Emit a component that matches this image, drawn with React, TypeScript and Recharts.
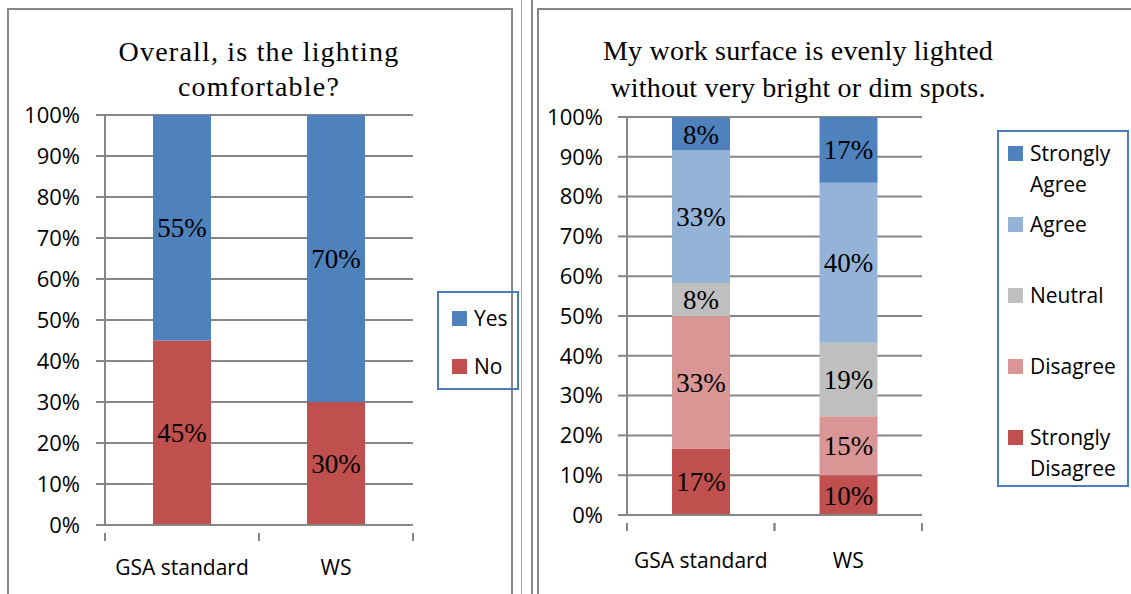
import React from 'react'
import { BarChart, Bar, XAxis, YAxis, CartesianGrid, LabelList } from 'recharts'

// shared categories and axis ticks
const categories = ['GSA standard', 'WS']
const percentTicks = [0, 10, 20, 30, 40, 50, 60, 70, 80, 90, 100]

// left chart: "Overall, is the lighting comfortable?"
const noValues = [45, 30]
const yesValues = [55, 70]

// right chart: "My work surface is evenly lighted..."
const stronglyDisagree = [16.7, 10]
const disagree = [33.3, 14.8]
const neutral = [8.3, 18.5]
const agree = [33.3, 40.2]
const stronglyAgree = [8.3, 16.5]

const leftSeries = [
  { key: 'No', values: noValues, color: '#C0504D' },
  { key: 'Yes', values: yesValues, color: '#4F81BD' },
]

const rightSeries = [
  { key: 'Strongly Disagree', values: stronglyDisagree, color: '#C0504D' },
  { key: 'Disagree', values: disagree, color: '#D99694' },
  { key: 'Neutral', values: neutral, color: '#BFBFBF' },
  { key: 'Agree', values: agree, color: '#95B3D7' },
  { key: 'Strongly Agree', values: stronglyAgree, color: '#4F81BD' },
]

const buildRows = (series: { key: string; values: number[] }[]) =>
  categories.map((name, i) => {
    const row: Record<string, string | number> = { name }
    series.forEach(s => { row[s.key] = s.values[i] })
    return row
  })

const leftData = buildRows(leftSeries)
const rightData = buildRows(rightSeries)

const GRAY = '#868686'
const SANS = '"Open Sans", sans-serif'
const SERIF = '"Liberation Serif", serif'

// category tick: label centred, tick marks on the band edges (Excel style)
const CategoryTick = (props: any) => {
  const { x, y, payload, width, visibleTicksCount, labelDy } = props
  const half = width / visibleTicksCount / 2
  return (
    <g>
      <line x1={x - half} y1={y} x2={x - half} y2={y + 8} stroke={GRAY} strokeWidth={2} />
      <line x1={x + half} y1={y} x2={x + half} y2={y + 8} stroke={GRAY} strokeWidth={2} />
      <text x={x} y={y + labelDy} textAnchor="middle" fontFamily={SANS} fontSize={21} fill="#000">
        {payload.value}
      </text>
    </g>
  )
}

const roundPct = (v: any) => `${Math.round(Number(v))}%`

function StackChart({ data, series, width, height, margin, yWidth, xHeight, tickMargin, labelDy }: any) {
  return (
    <BarChart width={width} height={height} data={data} margin={margin} barSize={58}>
      <CartesianGrid vertical={false} stroke={GRAY} strokeWidth={2} />
      <XAxis
        dataKey="name"
        height={xHeight}
        axisLine={{ stroke: GRAY, strokeWidth: 2 }}
        tickLine={false}
        interval={0}
        tick={<CategoryTick labelDy={labelDy} />}
      />
      <YAxis
        width={yWidth}
        domain={[0, 100]}
        ticks={percentTicks}
        interval={0}
        tickFormatter={(v: number) => `${v}%`}
        tickSize={9}
        tickMargin={tickMargin}
        axisLine={{ stroke: GRAY, strokeWidth: 2 }}
        tickLine={{ stroke: GRAY, strokeWidth: 2 }}
        tick={{ fontFamily: SANS, fontSize: 22, fill: '#000' }}
      />
      {series.map((s: any) => (
        <Bar key={s.key} dataKey={s.key} stackId="a" fill={s.color} isAnimationActive={false}>
          <LabelList
            dataKey={s.key}
            position="center"
            formatter={roundPct}
            style={{ fontFamily: SERIF, fontSize: 27, fill: '#000' }}
          />
        </Bar>
      ))}
    </BarChart>
  )
}

function LegendBox({ items, left, top, width, height, firstY, step, squareX, textX }: any) {
  return (
    <div style={{ position: 'absolute', left, top, width, height, border: '2px solid #4A7EBB', boxSizing: 'border-box' }}>
      {items.map((s: any, i: number) => {
        const cy = firstY + i * step - top
        const words = s.key.split(' ')
        return (
          <div key={s.key}>
            <div style={{ position: 'absolute', left: squareX - left, top: cy - 8, width: 15, height: 15, background: s.color }} />
            <div style={{ position: 'absolute', left: textX - left, top: cy - 16, fontFamily: SANS, fontSize: 21, lineHeight: '31px', color: '#000', whiteSpace: 'nowrap' }}>
              {words.map((w: string, j: number) => <div key={j}>{w}</div>)}
            </div>
          </div>
        )
      })}
    </div>
  )
}

export default function App() {
  return (
    <div style={{ position: 'absolute', left: 0, top: 0, width: 1131, height: 594, background: '#fff', overflow: 'hidden' }}>
      {/* panel frames */}
      <div style={{ position: 'absolute', left: 7, top: 8, width: 506, height: 600, border: `2px solid ${GRAY}`, boxSizing: 'border-box' }} />
      <div style={{ position: 'absolute', left: 521, top: 0, width: 1, height: 594, background: '#aaa' }} />
      <div style={{ position: 'absolute', left: 531, top: 0, width: 2, height: 594, background: GRAY }} />
      <div style={{ position: 'absolute', left: 537, top: 8, width: 620, height: 600, border: `2px solid ${GRAY}`, boxSizing: 'border-box' }} />

      {/* left chart */}
      <div style={{ position: 'absolute', left: 0, top: 0 }}>
        <StackChart
          data={leftData}
          series={leftSeries}
          width={530}
          height={594}
          margin={{ top: 115, right: 117, bottom: 0, left: 0 }}
          yWidth={105}
          xHeight={69}
          tickMargin={16}
          labelDy={42}
        />
      </div>
      <div style={{ position: 'absolute', left: 59, width: 400, top: 34, textAlign: 'center', whiteSpace: 'nowrap', fontFamily: SERIF, fontSize: 28, letterSpacing: 1.2, lineHeight: '35px', color: '#000' }}>
        Overall, is the lighting<br />comfortable?
      </div>
      <LegendBox items={[...leftSeries].reverse()} left={437} top={291} width={82} height={99} firstY={317} step={48} squareX={450} textX={472} />

      {/* right chart */}
      <div style={{ position: 'absolute', left: 530, top: 0 }}>
        <StackChart
          data={rightData}
          series={rightSeries}
          width={601}
          height={594}
          margin={{ top: 117, right: 209, bottom: 0, left: 0 }}
          yWidth={97}
          xHeight={79}
          tickMargin={15}
          labelDy={45}
        />
      </div>
      <div style={{ position: 'absolute', left: 548, width: 500, top: 32, textAlign: 'center', whiteSpace: 'nowrap', fontFamily: SERIF, fontSize: 28, letterSpacing: 0.2, lineHeight: '37px', color: '#000' }}>
        My work surface is evenly lighted<br />without very bright or dim spots.
      </div>
      <LegendBox items={[...rightSeries].reverse()} left={997} top={130} width={132} height={357} firstY={152} step={71} squareX={1006} textX={1028} />
    </div>
  )
}
